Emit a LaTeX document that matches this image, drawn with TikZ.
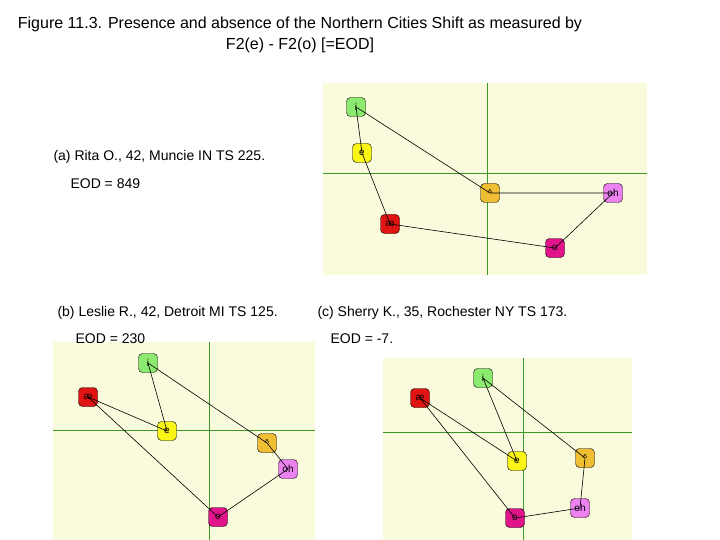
\documentclass[tikz,border=0pt]{standalone}
\usepackage{fontspec}
\setmainfont{Liberation Sans}
\begin{document}
\begin{tikzpicture}[x=1pt,y=-1pt,
  bg/.style={fill={rgb,255:red,250;green,250;blue,220},draw=none},
  ax/.style={draw={rgb,255:red,60;green,150;blue,40},line width=0.8pt},
  v/.style={draw=black,rounded corners=4pt,minimum size=19pt,inner sep=0pt,font=\fontsize{10}{11}\selectfont},
  ed/.style={draw=black,line width=0.6pt},
  lab/.style={anchor=west,font=\fontsize{14}{16}\selectfont},
  vi/.style={v,fill={rgb,255:red,140;green,235;blue,110}},
  ve/.style={v,fill={rgb,255:red,250;green,245;blue,20}},
  vw/.style={v,fill={rgb,255:red,240;green,190;blue,50}},
  vh/.style={v,fill={rgb,255:red,235;green,130;blue,240}},
  va/.style={v,fill={rgb,255:red,225;green,20;blue,20}},
  vo/.style={v,fill={rgb,255:red,225;green,20;blue,140}}]
\useasboundingbox (0,0) rectangle (720,540);
\fill[white] (0,0) rectangle (720,540);
\node[font=\fontsize{16}{21}\selectfont,align=center] (t) at (300,35) {Figure 11.3. Presence and absence of the Northern Cities Shift as measured by\\F2(e) - F2(o) [=EOD]};
% top panel
\fill[bg] (323,83) rectangle (647,275);
\draw[ax] (487,83) -- (487,275); \draw[ax] (323,173) -- (647,173);
\node[vi] (i1) at (356,107) {i};
\node[ve] (e1) at (362,153) {e};
\node[vw] (w1) at (490,193) {\^{}};
\node[vh] (h1) at (613,193) {oh};
\node[va] (a1) at (390,224) {æ};
\node[vo] (o1) at (555,248) {o};
\draw[ed] (i1.center)--(e1.center)--(a1.center)--(o1.center)--(h1.center)--(w1.center)--(i1.center);
\node[lab] (l1) at (50,157) {(a) Rita O., 42, Muncie IN TS 225.};
\node[lab] (m1) at (67,184) {EOD = 849};
% bottom left
\fill[bg] (53,342) rectangle (315,540);
\draw[ax] (209,342) -- (209,540); \draw[ax] (53,430) -- (315,430);
\node[vi] (i2) at (148,363) {i};
\node[va] (a2) at (88,397) {æ};
\node[ve] (e2) at (167,431) {e};
\node[vw] (w2) at (267,443) {\^{}};
\node[vh] (h2) at (288,469) {oh};
\node[vo] (o2) at (218,517) {o};
\draw[ed] (i2.center)--(e2.center)--(a2.center)--(o2.center)--(h2.center)--(w2.center)--(i2.center);
\node[lab] (l2) at (54,313) {(b) Leslie R., 42, Detroit MI TS 125.};
\node[lab] (m2) at (72,339) {EOD = 230};
% bottom right
\fill[bg] (383,358) rectangle (632,540);
\draw[ax] (523,358) -- (523,540); \draw[ax] (383,432) -- (632,432);
\node[vi] (i3) at (483,378) {i};
\node[va] (a3) at (420,398) {æ};
\node[ve] (e3) at (517,461) {e};
\node[vw] (w3) at (585,458) {\^{}};
\node[vh] (h3) at (580,508) {oh};
\node[vo] (o3) at (515,518) {o};
\draw[ed] (i3.center)--(e3.center)--(a3.center)--(o3.center)--(h3.center)--(w3.center)--(i3.center);
\node[lab] (l3) at (314,313) {(c) Sherry K., 35, Rochester NY TS 173.};
\node[lab] (m3) at (327,339) {EOD = -7.};
\end{tikzpicture}
\end{document}
